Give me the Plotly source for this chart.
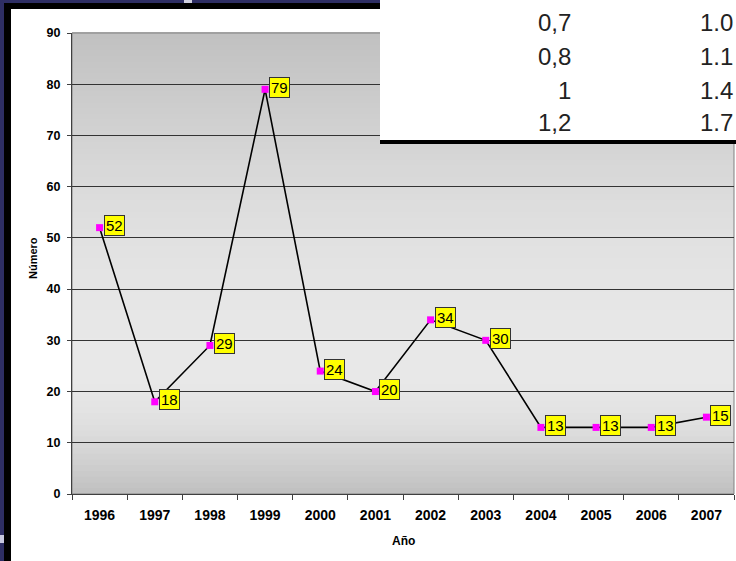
import plotly.graph_objects as go
import math

# ---- data ----
years = ["1996", "1997", "1998", "1999", "2000", "2001",
         "2002", "2003", "2004", "2005", "2006", "2007"]
counts = [52, 18, 29, 79, 24, 20, 34, 30, 13, 13, 13, 15]
y_ticks = [0, 10, 20, 30, 40, 50, 60, 70, 80, 90]
table_col1 = ["0,7", "0,8", "1", "1,2"]
table_col2 = ["1.0", "1.1", "1.4", "1.7"]

W, H = 736, 561
L, R, T, B = 72, 2, 33, 67
PW, PH = W - L - R, H - T - B
FONT = "Arial, Liberation Sans, sans-serif"


def px(x):
    return (x - L) / PW


def py(y):
    return (H - B - y) / PH


fig = go.Figure()

fig.add_trace(go.Scatter(
    x=years, y=counts, mode="lines+markers",
    line=dict(color="black", width=1.6),
    marker=dict(symbol="square", size=7, color="#FF00FF"),
    cliponaxis=False, showlegend=False, hoverinfo="x+y"))

shapes = []
# gradient background of plot area
n = 80
peak = 0.27  # fraction from bottom where lightest
for i in range(n):
    f0, f1 = i / n, (i + 1) / n
    fm = (f0 + f1) / 2
    if fm < peak:
        t = fm / peak
    else:
        t = (1 - fm) / (1 - peak)
    v = int(round(192 + 40 * math.sin(t * math.pi / 2)))
    c = f"rgb({v},{v},{v})"
    shapes.append(dict(type="rect", xref="x domain", yref="y domain",
                       x0=0, x1=1, y0=f0, y1=f1 + 0.002, layer="below",
                       line=dict(width=0), fillcolor=c))
# plot area border
shapes.append(dict(type="rect", xref="x domain", yref="y domain",
                   x0=0, x1=1, y0=0, y1=1, layer="below",
                   line=dict(color="#808080", width=1), fillcolor="rgba(0,0,0,0)"))

# slide background: navy strips and black frame
navy = "#2E2E64"
shapes += [
    dict(type="rect", xref="paper", yref="paper", x0=px(0), x1=px(4), y0=py(H), y1=py(0),
         line=dict(width=0), fillcolor=navy, layer="above"),
    dict(type="rect", xref="paper", yref="paper", x0=px(0), x1=px(W), y0=py(3), y1=py(0),
         line=dict(width=0), fillcolor=navy, layer="above"),
    dict(type="rect", xref="paper", yref="paper", x0=px(4), x1=px(11), y0=py(H), y1=py(3),
         line=dict(width=0), fillcolor="black", layer="above"),
    dict(type="rect", xref="paper", yref="paper", x0=px(4), x1=px(W), y0=py(9), y1=py(3),
         line=dict(width=0), fillcolor="black", layer="above"),
    dict(type="rect", xref="paper", yref="paper", x0=px(0), x1=px(4), y0=py(543), y1=py(535),
         line=dict(width=0), fillcolor="#C8C8E0", layer="above"),
    dict(type="rect", xref="paper", yref="paper", x0=px(184), x1=px(192), y0=py(3), y1=py(0),
         line=dict(width=0), fillcolor="#D0D0E0", layer="above"),
    # overlaid table
    dict(type="rect", xref="paper", yref="paper", x0=px(380), x1=px(W + 2), y0=py(141), y1=py(-2),
         line=dict(width=0), fillcolor="white", layer="above"),
    dict(type="rect", xref="paper", yref="paper", x0=px(380), x1=px(W + 2), y0=py(144), y1=py(140),
         line=dict(width=0), fillcolor="black", layer="above"),
]

annotations = []
for i, v in enumerate(counts):
    annotations.append(dict(
        x=i, y=v, xref="x", yref="y", text=str(v), showarrow=False,
        xanchor="left", yanchor="middle", xshift=4, yshift=2,
        bgcolor="#FFFF00", bordercolor="#333333", borderwidth=1, borderpad=1,
        font=dict(family=FONT, size=15, color="black")))

row_y = [23, 56.5, 90, 123]
for ry, a, b in zip(row_y, table_col1, table_col2):
    annotations.append(dict(x=px(573), y=py(ry), xref="paper", yref="paper", text=a,
                            showarrow=False, xanchor="right", yanchor="middle",
                            font=dict(family=FONT, size=24, color="#222222")))
    annotations.append(dict(x=px(698), y=py(ry), xref="paper", yref="paper", text=b,
                            showarrow=False, xanchor="left", yanchor="middle",
                            font=dict(family=FONT, size=24, color="#222222")))

# axis titles
annotations.append(dict(x=px(33), y=py(258), xref="paper", yref="paper", text="<b>Número</b>",
                        textangle=-90, showarrow=False, xanchor="center", yanchor="middle",
                        font=dict(family=FONT, size=11, color="black")))
annotations.append(dict(x=px(403), y=py(541), xref="paper", yref="paper", text="<b>Año</b>",
                        showarrow=False, xanchor="center", yanchor="middle",
                        font=dict(family=FONT, size=12, color="black")))

fig.update_layout(
    width=W, height=H,
    margin=dict(l=L, r=R, t=T, b=B, pad=0),
    paper_bgcolor="white", plot_bgcolor="rgba(0,0,0,0)",
    shapes=shapes, annotations=annotations,
    font=dict(family=FONT, color="black"),
    xaxis=dict(type="category", tickson="boundaries", ticks="outside", ticklen=5,
               tickcolor="#404040", showline=True, linecolor="#404040", linewidth=1,
               showgrid=False, range=[-0.5, 11.5],
               tickfont=dict(family=FONT, size=14, color="black", weight="bold"),
               ticklabelstandoff=8),
    yaxis=dict(range=[0, 90], tickvals=y_ticks, ticks="outside", ticklen=4,
               tickcolor="#404040", showline=True, linecolor="#404040", linewidth=1,
               showgrid=True, gridcolor="#333333", gridwidth=1, zeroline=False,
               tickfont=dict(family=FONT, size=12.5, color="black", weight="bold"),
               ticklabelstandoff=4),
)

fig.write_html("out.html", config={"displayModeBar": False},
               post_script="document.body.style.margin='0';document.body.style.overflow='hidden';")
